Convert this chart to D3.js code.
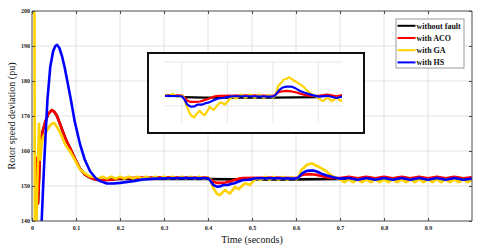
<!DOCTYPE html>
<html>
<head>
<meta charset="utf-8">
<script src="https://cdn.jsdelivr.net/npm/d3@7"></script>
<style>
  html, body { margin: 0; padding: 0; background: #fff; }
  svg { display: block; }
  .tick text { font-family: "Liberation Serif", "Times New Roman", serif; font-weight: bold; font-size: 6px; fill: #222; }
  .eje path, .eje line { stroke: #4a4a4a; stroke-width: 1; }
  .rotulo { font-family: "Liberation Serif", "Times New Roman", serif; font-size: 10px; fill: #111; }
  .leyenda text { font-family: "Liberation Serif", "Times New Roman", serif; font-weight: bold; font-size: 8px; fill: #111; }
</style>
</head>
<body>
<svg id="grafica" width="480" height="250"></svg>
<script>
// valores: [tiempo (s), desviacion (pu)]
const sinFalla = [
  [0, 130], [0.008, 130], [0.0095, 158], [0.011, 156], [0.0135, 145], [0.016, 152], [0.018, 160],
  [0.021, 163.5], [0.025, 166], [0.03, 168.2], [0.037, 170.6], [0.045, 171.7], [0.05, 171.3],
  [0.056, 170.2], [0.063, 168], [0.071, 165.2], [0.078, 163], [0.086, 161], [0.097, 158],
  [0.109, 155], [0.12, 153.3], [0.132, 152.4], [0.145, 151.8], [0.16, 151.7], [0.2, 152],
  [0.4, 152], [0.45, 151.9], [0.6, 151.9], [0.7, 152], [1.0, 152]
];
const conACO = [
  [0, 130], [0.008, 130], [0.0095, 158], [0.011, 156], [0.0135, 145], [0.016, 152], [0.018, 160],
  [0.021, 163.5], [0.025, 166], [0.03, 168.2], [0.037, 170.6], [0.045, 171.7], [0.05, 171.3],
  [0.056, 170.2], [0.063, 168], [0.071, 165.2], [0.078, 163], [0.086, 161], [0.097, 158],
  [0.109, 155], [0.12, 153.3], [0.132, 152.4], [0.145, 151.8], [0.16, 151.6], [0.18, 151.8],
  [0.2, 152.2], [0.25, 152.4], [0.3, 152.5], [0.35, 152.4], [0.4, 152.4], [0.405, 152],
  [0.412, 151.2], [0.42, 150.9], [0.43, 150.9], [0.44, 151], [0.45, 151.3], [0.46, 151.7],
  [0.47, 152.1], [0.48, 152.3], [0.55, 152.4], [0.6, 152.3], [0.605, 152.5], [0.612, 153.1],
  [0.62, 153.3], [0.63, 153.4], [0.64, 153.3], [0.65, 153.1], [0.66, 152.8], [0.67, 152.5],
  [0.68, 152.3], [0.7, 152.3], [0.72, 152.6], [0.74, 152.2], [0.76, 152.6], [0.78, 152.2],
  [0.8, 152.6], [0.82, 152.2], [0.84, 152.6], [0.86, 152.2], [0.88, 152.6], [0.9, 152.2],
  [0.92, 152.6], [0.94, 152.2], [0.96, 152.6], [0.98, 152.2], [1.0, 152.5]
];
const conGA = [
  [0, 215], [0.0055, 215], [0.0065, 130], [0.0085, 132], [0.012, 150], [0.016, 167.8],
  [0.019, 157.5], [0.022, 162], [0.025, 164], [0.03, 165], [0.036, 166.3], [0.042, 167.5],
  [0.048, 168], [0.052, 167.8], [0.056, 167], [0.06, 166.2], [0.065, 165], [0.07, 163.5],
  [0.075, 162], [0.08, 161], [0.086, 160], [0.095, 158], [0.109, 154.8], [0.12, 153.6],
  [0.132, 152.7], [0.14, 152.6], [0.15, 152.0], [0.16, 152.7], [0.17, 152.1], [0.18, 152.7],
  [0.19, 152.1], [0.2, 152.7], [0.21, 152.1], [0.22, 152.7], [0.23, 152.1], [0.24, 152.7],
  [0.25, 152.1], [0.26, 152.7], [0.27, 152.1], [0.28, 152.7], [0.29, 152.1], [0.3, 152.7],
  [0.31, 152.1], [0.32, 152.7], [0.33, 152.1], [0.34, 152.7], [0.35, 152.1], [0.36, 152.7],
  [0.37, 152.1], [0.38, 152.7], [0.39, 152.1], [0.4, 152.4], [0.405, 151.8], [0.412, 149.5],
  [0.42, 147.8], [0.427, 147.4], [0.433, 148.2], [0.439, 148.9], [0.445, 148.2], [0.45, 147.9],
  [0.456, 148.8], [0.461, 149.8], [0.466, 149.4], [0.47, 149.1], [0.477, 150], [0.484, 150.8],
  [0.49, 150.6], [0.495, 150.3], [0.503, 151.3], [0.51, 152.2], [0.52, 151.7], [0.53, 152.6],
  [0.54, 151.8], [0.55, 152.6], [0.56, 151.8], [0.57, 152.6], [0.58, 151.8], [0.59, 152.5],
  [0.6, 151.9], [0.605, 152.3], [0.612, 154.6], [0.618, 155.2], [0.624, 156], [0.63, 156.2],
  [0.636, 156.5], [0.642, 156.1], [0.647, 155.7], [0.652, 155.5], [0.658, 155], [0.664, 154.6],
  [0.67, 154.1], [0.677, 153.3], [0.685, 152.7], [0.692, 152.3], [0.7, 151.8], [0.71, 151.1],
  [0.72, 151.9], [0.73, 151.1], [0.74, 151.9], [0.75, 151.1], [0.76, 151.9], [0.77, 151.1],
  [0.78, 151.9], [0.79, 151.1], [0.8, 151.9], [0.81, 151.1], [0.82, 151.9], [0.83, 151.1],
  [0.84, 151.9], [0.85, 151.1], [0.86, 151.9], [0.87, 151.1], [0.88, 151.9], [0.89, 151.1],
  [0.9, 151.9], [0.91, 151.1], [0.92, 151.9], [0.93, 151.1], [0.94, 151.9], [0.95, 151.1],
  [0.96, 151.9], [0.97, 151.1], [0.98, 151.9], [0.99, 151.1], [1.0, 151.8]
];
const conHS = [
  [0, 130], [0.018, 130], [0.022, 140], [0.025, 149], [0.029, 160], [0.035, 174.5],
  [0.0415, 184], [0.048, 188.5], [0.053, 190], [0.057, 190.3], [0.062, 189.5], [0.068, 187.2],
  [0.074, 184], [0.081, 179.5], [0.089, 174.2], [0.097, 168.5], [0.109, 162], [0.12, 157.5],
  [0.132, 154.2], [0.145, 152.2], [0.155, 151.4], [0.17, 150.7], [0.185, 150.7], [0.2, 150.9],
  [0.23, 151.4], [0.253, 151.9], [0.28, 152.1], [0.31, 152.2], [0.35, 152.3], [0.4, 152.2],
  [0.405, 151.6], [0.412, 150.3], [0.42, 149.8], [0.428, 149.9], [0.435, 150.3], [0.445, 150.3],
  [0.452, 150.6], [0.46, 150.8], [0.47, 151.3], [0.48, 151.7], [0.49, 151.8], [0.5, 152],
  [0.51, 152.2], [0.55, 152.2], [0.6, 152.1], [0.605, 152.4], [0.614, 153.6], [0.622, 154.2],
  [0.63, 154.4], [0.64, 154.4], [0.65, 154], [0.66, 153.4], [0.67, 153], [0.685, 152.5],
  [0.7, 152.1], [0.72, 152.3], [0.74, 151.8], [0.76, 152.3], [0.78, 151.8], [0.8, 152.3],
  [0.82, 151.8], [0.84, 152.3], [0.86, 151.8], [0.88, 152.3], [0.9, 151.8], [0.92, 152.3],
  [0.94, 151.8], [0.96, 152.3], [0.98, 151.8], [1.0, 152.1]
];

const series = [
  { nombre: "without fault", color: "#000000", datos: sinFalla },
  { nombre: "with ACO",      color: "#ff0000", datos: conACO },
  { nombre: "with GA",       color: "#ffd200", datos: conGA },
  { nombre: "with HS",       color: "#0000ff", datos: conHS }
];

const ticksX = [0, 0.1, 0.2, 0.3, 0.4, 0.5, 0.6, 0.7, 0.8, 0.9];
const ticksY = [140, 150, 160, 170, 180, 190, 200];
const gridInset = [0.4, 0.5, 0.6, 0.7];

const svg = d3.select('#grafica');

const x = d3.scaleLinear().domain([0, 1]).range([32, 472]);
const y = d3.scaleLinear().domain([140, 200]).range([221, 11]);

// rejilla
svg.append('g').selectAll('line').data(ticksX.slice(1))
  .join('line')
  .attr('x1', d => x(d)).attr('x2', d => x(d))
  .attr('y1', y(200)).attr('y2', y(140))
  .attr('stroke', '#e3e3e3');
svg.append('g').selectAll('line').data(ticksY.slice(1, -1))
  .join('line')
  .attr('x1', x(0)).attr('x2', x(1))
  .attr('y1', d => y(d)).attr('y2', d => y(d))
  .attr('stroke', '#e3e3e3');

svg.append('defs').append('clipPath').attr('id', 'recorte')
  .append('rect')
  .attr('x', x(0)).attr('y', y(200))
  .attr('width', x(1) - x(0)).attr('height', y(140) - y(200));

const linea = d3.line().x(d => x(d[0])).y(d => y(d[1]));

svg.append('g').attr('clip-path', 'url(#recorte)')
  .selectAll('path').data(series)
  .join('path')
  .attr('d', d => linea(d.datos))
  .attr('fill', 'none')
  .attr('stroke', d => d.color)
  .attr('stroke-width', 2.6)
  .attr('stroke-linejoin', 'round');

// ejes
svg.append('g').attr('class', 'eje')
  .attr('transform', `translate(0,${y(140)})`)
  .call(d3.axisBottom(x).tickValues(ticksX).tickSize(-3).tickPadding(5).tickFormat(d3.format('')))
  .call(g => g.select('.domain').attr('d', `M${x(0)},0H${x(1)}`));
svg.append('g').attr('class', 'eje')
  .attr('transform', `translate(0,${y(200)})`)
  .call(d3.axisTop(x).tickValues(ticksX).tickSize(-3).tickFormat(''))
  .call(g => g.select('.domain').attr('d', `M${x(0)},0H${x(1)}`));
svg.append('g').attr('class', 'eje')
  .attr('transform', `translate(${x(0)},0)`)
  .call(d3.axisLeft(y).tickValues(ticksY).tickSize(-3).tickPadding(2))
  .call(g => g.select('.domain').attr('d', `M0,${y(200)}V${y(140)}`));
svg.append('g').attr('class', 'eje')
  .attr('transform', `translate(${x(1)},0)`)
  .call(d3.axisRight(y).tickValues(ticksY).tickSize(-3).tickFormat(''))
  .call(g => g.select('.domain').attr('d', `M0,${y(200)}V${y(140)}`));

svg.append('text').attr('class', 'rotulo')
  .attr('x', (x(0) + x(1)) / 2).attr('y', 243)
  .attr('text-anchor', 'middle')
  .text('Time (seconds)');
svg.append('text').attr('class', 'rotulo')
  .attr('transform', `translate(15,${(y(140) + y(200)) / 2}) rotate(-90)`)
  .attr('text-anchor', 'middle')
  .text('Rotor speed deviation (pu)');

// recuadro ampliado
svg.append('rect')
  .attr('x', 148).attr('y', 53).attr('width', 216).attr('height', 80)
  .attr('fill', '#fff').attr('stroke', '#111').attr('stroke-width', 2);

const xi = d3.scaleLinear().domain([0.363, 0.752]).range([165, 342]);
const yi = d3.scaleLinear().domain([146.1, 160]).range([123, 62]);

svg.append('g').selectAll('line').data(gridInset)
  .join('line')
  .attr('x1', d => xi(d)).attr('x2', d => xi(d))
  .attr('y1', yi(160)).attr('y2', yi(146.1))
  .attr('stroke', '#e6e6e6');
svg.append('g').selectAll('line').data([150, 160])
  .join('line')
  .attr('x1', xi(0.363)).attr('x2', xi(0.752))
  .attr('y1', d => yi(d)).attr('y2', d => yi(d))
  .attr('stroke', '#e6e6e6');

svg.select('defs').append('clipPath').attr('id', 'recorteInset')
  .append('rect')
  .attr('x', xi(0.363)).attr('y', yi(160))
  .attr('width', xi(0.752) - xi(0.363)).attr('height', yi(146.1) - yi(160));

const lineaInset = d3.line().x(d => xi(d[0])).y(d => yi(d[1]));

svg.append('g').attr('clip-path', 'url(#recorteInset)')
  .selectAll('path').data(series)
  .join('path')
  .attr('d', d => lineaInset(d.datos.filter(p => p[0] >= 0.33 && p[0] <= 0.78)))
  .attr('fill', 'none')
  .attr('stroke', d => d.color)
  .attr('stroke-width', 2.2)
  .attr('stroke-linejoin', 'round');

// leyenda
const leyenda = svg.append('g').attr('class', 'leyenda');
leyenda.append('rect')
  .attr('x', 396).attr('y', 19).attr('width', 68).attr('height', 49)
  .attr('fill', '#fff').attr('stroke', '#999').attr('stroke-width', 1);
const fila = leyenda.selectAll('g.fila').data(series)
  .join('g').attr('class', 'fila')
  .attr('transform', (d, i) => `translate(0,${25.8 + i * 12.2})`);
fila.append('line')
  .attr('x1', 397.5).attr('x2', 415.5)
  .attr('stroke', d => d.color).attr('stroke-width', 2);
fila.append('text')
  .attr('x', 416.5).attr('y', 2.8)
  .text(d => d.nombre);
</script>
</body>
</html>
